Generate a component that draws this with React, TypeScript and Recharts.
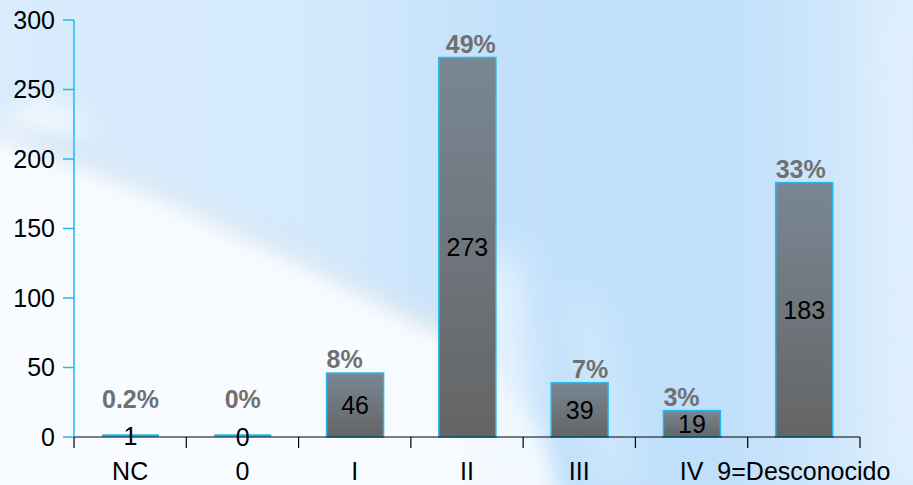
import { BarChart, Bar, XAxis, YAxis, LabelList } from "recharts";

const categories = ["NC", "0", "I", "II", "III", "IV", "9=Desconocido"];
const counts = [1, 0, 46, 273, 39, 19, 183];
const percentLabels = ["0.2%", "0%", "8%", "49%", "7%", "3%", "33%"];
const yTicks = [0, 50, 100, 150, 200, 250, 300];

// where each percentage sits against its bar
const pctAnchor = ["middle", "middle", "start", "end", "end", "start", "start"];

const W = 913;
const H = 485;
const MARGIN = { top: 20, right: 53, left: 0, bottom: 0 };
const Y_AXIS_W = 74;
const PLOT_W = W - Y_AXIS_W - MARGIN.right;
const FONT = "'Liberation Sans', Arial, sans-serif";
const CYAN = "#22b8ec";

const data = categories.map((name, i) => ({
  name,
  count: counts[i],
  pct: percentLabels[i],
}));

const XTick = (props: any) => {
  const { x, y, payload, index } = props;
  const band = PLOT_W / categories.length;
  return (
    <g>
      {index === 0 && (
        <line x1={x - band / 2} x2={x - band / 2} y1={y} y2={y + 11} stroke="#000" strokeWidth={1.2} />
      )}
      <line x1={x + band / 2} x2={x + band / 2} y1={y} y2={y + 11} stroke="#000" strokeWidth={1.2} />
      <text x={x} y={y + 43} textAnchor="middle" fontSize={25} fontFamily={FONT} fill="#000">
        {payload.value}
      </text>
    </g>
  );
};

const BarShape = (props: any) => {
  const { x, y, width, height } = props;
  if (height < 3) {
    return <line x1={x} x2={x + width} y1={y + height - 1.5} y2={y + height - 1.5} stroke={CYAN} strokeWidth={2.5} />;
  }
  return (
    <rect x={x} y={y} width={width} height={height} fill="url(#barFill)" stroke={CYAN} strokeWidth={1.5} />
  );
};

const PctLabel = (props: any) => {
  const { x, y, width, height, index } = props;
  const anchor = pctAnchor[index];
  const base = y + height;
  const ty = Math.min(y - 5, base - 29);
  const tx = anchor === "start" ? x : anchor === "end" ? x + width : x + width / 2;
  return (
    <text x={tx} y={ty} textAnchor={anchor} fontSize={25} fontWeight="bold" fontFamily={FONT} fill="#707070">
      {percentLabels[index]}
    </text>
  );
};

function Backdrop() {
  return (
    <svg width={W} height={H} style={{ position: "absolute", left: 0, top: 0 }}>
      <defs>
        <linearGradient id="sky" x1="0" y1="0" x2="1" y2="0">
          <stop offset="0%" stopColor="#d9ecfc" />
          <stop offset="35%" stopColor="#d4e9fc" />
          <stop offset="55%" stopColor="#c3e1fb" />
          <stop offset="78%" stopColor="#bfdffb" />
          <stop offset="90%" stopColor="#cde6fb" />
          <stop offset="100%" stopColor="#dcedfc" />
        </linearGradient>
        <filter id="soft" x="-20%" y="-20%" width="140%" height="140%">
          <feGaussianBlur stdDeviation="10" />
        </filter>
        <filter id="softer" x="-50%" y="-50%" width="200%" height="200%">
          <feGaussianBlur stdDeviation="18" />
        </filter>
      </defs>
      <rect width={W} height={H} fill="url(#sky)" />
      <polygon
        points="0,120 40,95 80,115 90,135 0,135"
        fill="#f4f9ff"
        opacity={0.8}
        filter="url(#soft)"
      />
      <polygon
        points="-20,130 150,190 300,260 440,330 500,380 540,440 560,500 -20,500"
        fill="#f8fbff"
        filter="url(#soft)"
      />
      <polygon
        points="0,118 150,180 300,250 440,320 440,335 300,262 150,192 0,130"
        fill="#d8e2ea"
        opacity={0.6}
        filter="url(#soft)"
      />
      <polygon points="470,250 520,260 540,485 480,485" fill="#eef7ff" opacity={0.8} filter="url(#softer)" />
      <polygon points="560,300 600,300 640,485 600,485" fill="#d6ecfc" opacity={0.7} filter="url(#softer)" />
      <polygon points="870,0 913,0 913,485 880,485" fill="#e2f0fd" opacity={0.7} filter="url(#softer)" />
    </svg>
  );
}

export default function App() {
  return (
    <div style={{ position: "fixed", left: 0, top: 0, width: W, height: H, fontFamily: FONT }}>
      <Backdrop />
      <div style={{ position: "absolute", left: 0, top: 0 }}>
        <BarChart width={W} height={H} data={data} margin={MARGIN}>
          <defs>
            <linearGradient id="barFill" x1="0" y1="0" x2="0" y2="1">
              <stop offset="0%" stopColor="#798794" />
              <stop offset="100%" stopColor="#646464" />
            </linearGradient>
          </defs>
          <XAxis
            dataKey="name"
            height={48}
            axisLine={{ stroke: "#000", strokeWidth: 1.2 }}
            tickLine={false}
            tickSize={0}
            tickMargin={0}
            tick={<XTick />}
            interval={0}
          />
          <YAxis
            width={Y_AXIS_W}
            domain={[0, 300]}
            ticks={yTicks}
            interval={0}
            axisLine={{ stroke: CYAN, strokeWidth: 1.5 }}
            tickLine={{ stroke: CYAN, strokeWidth: 1.5 }}
            tickSize={11}
            tickMargin={8}
            tick={{ fontSize: 25, fill: "#000", fontFamily: FONT }}
          />
          <Bar dataKey="count" barSize={57} shape={<BarShape />} isAnimationActive={false}>
            <LabelList dataKey="count" position="center" fill="#000" fontSize={25} fontFamily={FONT} />
            <LabelList dataKey="pct" content={<PctLabel />} />
          </Bar>
        </BarChart>
      </div>
    </div>
  );
}
